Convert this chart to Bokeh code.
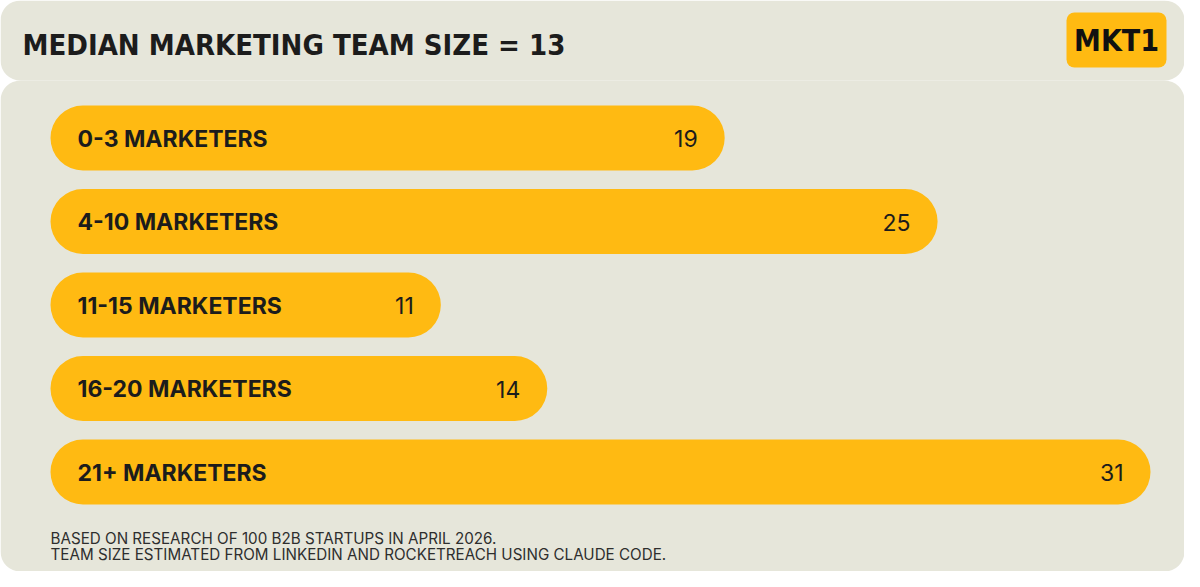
from bokeh.plotting import figure
from bokeh.models import Range1d, ColumnDataSource
from bokeh.core.properties import value
from bokeh.embed import file_html
from bokeh.resources import INLINE

# ---- data ----
categories = ["0-3 MARKETERS", "4-10 MARKETERS", "11-15 MARKETERS", "16-20 MARKETERS", "21+ MARKETERS"]
counts = [19, 25, 11, 14, 31]
title_text = "MEDIAN MARKETING TEAM SIZE = 13"
logo_text = "MKT1"
footer_lines = [
    "BASED ON RESEARCH OF 100 B2B STARTUPS IN APRIL 2026.",
    "TEAM SIZE ESTIMATED FROM LINKEDIN AND ROCKETREACH USING CLAUDE CODE.",
]

# ---- style / layout ----
W, H = 1184, 571
YELLOW = "#FFBA12"
PANEL = "#E6E6DA"
INK = "#1C1C1C"
X0_PX = 50.0          # pixel position of value 0
PX_PER_UNIT = 1100 / 31
ROW0_PX = 137.5       # centre of first row
ROW_PX = 83.5         # row spacing
BAR_PX = 65.0

rows = list(range(len(categories)))

p = figure(width=W, height=H, output_backend="svg", toolbar_location=None,
           x_range=Range1d(-X0_PX / PX_PER_UNIT, (W - X0_PX) / PX_PER_UNIT),
           y_range=Range1d((H - ROW0_PX) / ROW_PX, -ROW0_PX / ROW_PX),
           min_border=0, min_border_left=0, min_border_right=0,
           min_border_top=0, min_border_bottom=0)
p.extra_x_ranges = {"px": Range1d(0, W)}
p.extra_y_ranges = {"px": Range1d(H, 0)}
p.axis.visible = False
p.grid.visible = False
p.outline_line_color = None
p.background_fill_color = "white"
p.border_fill_color = "white"

# panels
p.quad(left=[0, 0], right=[W, W], top=[0, 80], bottom=[80, H],
       fill_color=PANEL, line_color=None, border_radius=20,
       x_range_name="px", y_range_name="px")

# logo
p.quad(left=[1066], right=[1166], top=[12], bottom=[67], fill_color=YELLOW,
       line_color=None, border_radius=8, x_range_name="px", y_range_name="px")
p.text(x=[1116], y=[40], text=[logo_text], text_font=value("DejaVu Sans Condensed"),
       text_font_style="bold", text_font_size="30px", text_align="center",
       text_baseline="alphabetic", text_color="#111111",
       x_range_name="px", y_range_name="px")

# title
p.text(x=[22], y=[44], text=[title_text], text_font=value("DejaVu Sans Condensed"),
       text_font_style="bold", text_font_size="29px", text_align="left",
       text_baseline="alphabetic", text_color=INK,
       x_range_name="px", y_range_name="px")

# bars
src = ColumnDataSource(dict(cat=categories, val=counts, row=rows,
                            zero=[0] * len(rows), lab=[str(v) for v in counts]))
p.hbar(y="row", left="zero", right="val", height=BAR_PX / ROW_PX, source=src,
       fill_color=YELLOW, line_color=None, border_radius=33)
p.text(x="zero", y="row", text="cat", source=src, x_offset=27, y_offset=0.5,
       text_font=value("Inter"), text_font_style="bold", text_font_size="23px",
       text_align="left", text_baseline="alphabetic", text_color=INK)
p.text(x="val", y="row", text="lab", source=src, x_offset=-27, y_offset=0.5,
       text_font=value("Inter"), text_font_size="23px",
       text_align="right", text_baseline="alphabetic", text_color=INK)

# footer
p.text(x=[50, 50], y=[538, 554], text=footer_lines, text_font=value("Inter"),
       text_font_size="15.2px", text_align="left", text_baseline="alphabetic",
       text_color="#2E2E2E", x_range_name="px", y_range_name="px")

open("out.html", "w").write(file_html(p, INLINE))
